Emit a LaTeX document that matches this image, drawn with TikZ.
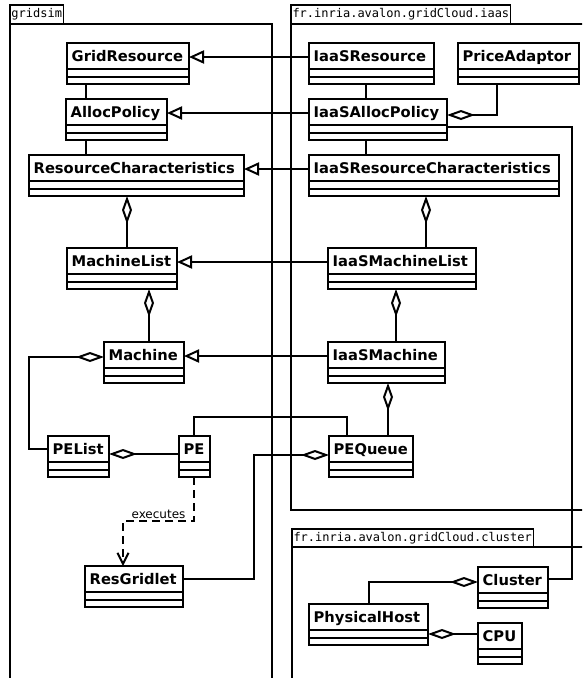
\documentclass[tikz,border=0pt]{standalone}
\usepackage{fontspec}
\newfontfamily\clsfont{DejaVu Sans}
\newfontfamily\pkgfont{DejaVu Sans Mono}
\usetikzlibrary{arrows.meta}
\newcommand{\umlclass}[5]{%
  \node[clsbox, minimum width=#4pt, minimum height=41pt] (#1) at (#2,#3) {};
  \node[clstext] (#1-t) at ([xshift=4.5pt,yshift=-18.7pt]#1.north west) {#5};
  \draw[clsline] ([yshift=-26pt]#1.north west) -- ([yshift=-26pt]#1.north east);
  \draw[clsline] ([yshift=-33.5pt]#1.north west) -- ([yshift=-33.5pt]#1.north east);
}
\begin{document}
\begin{tikzpicture}[x=1pt,y=-1pt,
 clsbox/.style={draw, line width=2.1pt, fill=white, anchor=north west, inner sep=0pt, outer sep=0pt},
 clsline/.style={line width=2pt},
 clstext/.style={anchor=base west, inner sep=0pt, font=\clsfont\fontsize{14.7}{17}\selectfont\bfseries},
 conn/.style={line width=2pt},
 gen/.style={conn, -{Triangle[open, length=15pt, width=13pt]}},
 agg/.style={conn, {Diamond[open, length=28pt, width=10pt]}-},
 dep/.style={conn, dash pattern=on 8pt off 5pt, -{Straight Barb[length=11pt, width=11pt]}},
 lbl/.style={font=\clsfont\fontsize{12}{14}\selectfont, inner sep=1.5pt},
 pkgtab/.style={draw, line width=1.5pt, anchor=south west, inner xsep=1.5pt, inner ysep=0pt, minimum height=19pt, font=\pkgfont\fontsize{12}{14}\selectfont, fill=white, outer sep=0pt},
 pkgbody/.style={draw, line width=2pt, anchor=north west, inner sep=0pt, outer sep=0pt},
]
\useasboundingbox (0,0) rectangle (582,678);
\fill[white] (0,0) rectangle (582,678);
\clip (0,0) rectangle (582,678);

% packages
\node[pkgbody, minimum width=262pt, minimum height=690pt] (gsb) at (10,24) {};
\node[pkgtab] (gst) at (gsb.north west) {gridsim};
\node[pkgbody, minimum width=320pt, minimum height=486pt] (iab) at (291,24) {};
\node[pkgtab] (iat) at (iab.north west) {fr.inria.avalon.gridCloud.iaas};
\node[pkgbody, minimum width=320pt, minimum height=200pt] (clb) at (292,547) {};
\node[pkgtab, minimum height=18pt] (clt) at (clb.north west) {fr.inria.avalon.gridCloud.cluster};

% classes
\umlclass{gr}{67}{43}{122}{GridResource}
\umlclass{ap}{66}{99}{101}{AllocPolicy}
\umlclass{rc}{29}{155}{215}{ResourceCharacteristics}
\umlclass{ml}{67}{248}{110}{MachineList}
\umlclass{m}{104}{342}{80}{Machine}
\umlclass{pel}{48}{436}{61}{PEList}
\umlclass{pe}{179}{436}{31}{PE}
\umlclass{peq}{329}{436}{84}{PEQueue}
\umlclass{rg}{85}{566}{98}{ResGridlet}
\umlclass{iasres}{309}{43}{125}{IaaSResource}
\umlclass{pa}{458}{43}{121}{PriceAdaptor}
\umlclass{iasap}{309}{99}{138}{IaaSAllocPolicy}
\umlclass{iasrc}{309}{155}{250}{IaaSResourceCharacteristics}
\umlclass{iasml}{328}{248}{148}{IaaSMachineList}
\umlclass{iasm}{328}{342}{117}{IaaSMachine}
\umlclass{cl}{478}{567}{70}{Cluster}
\umlclass{ph}{309}{604}{119}{PhysicalHost}
\umlclass{cpu}{478}{623}{44}{CPU}

% generalizations
\draw[gen] ([yshift=-14pt]iasres.north west) -- ([yshift=-14pt]iasres.north west -| gr.east);
\draw[gen] ([yshift=-14pt]iasap.north west) -- ([yshift=-14pt]iasap.north west -| ap.east);
\draw[gen] ([yshift=-14pt]iasrc.north west) -- ([yshift=-14pt]iasrc.north west -| rc.east);
\draw[gen] ([yshift=-14pt]iasml.north west) -- ([yshift=-14pt]iasml.north west -| ml.east);
\draw[gen] ([yshift=-14pt]iasm.north west) -- ([yshift=-14pt]iasm.north west -| m.east);

% plain associations
\draw[conn] ([xshift=19pt]gr.south west) -- ([xshift=19pt]gr.south west |- ap.north);
\draw[conn] ([xshift=20pt]ap.south west) -- ([xshift=20pt]ap.south west |- rc.north);
\draw[conn] ([xshift=57pt]iasres.south west) -- ([xshift=57pt]iasres.south west |- iasap.north);
\draw[conn] ([xshift=57pt]iasap.south west) -- ([xshift=57pt]iasap.south west |- iasrc.north);
\draw[conn] ([yshift=-28pt]iasap.north east) -- ++(125,0) |- ([yshift=-12pt]cl.north east);
\draw[conn] ([xshift=15pt]pe.north west) -- ++(0,-19) -| ([xshift=18pt]peq.north west);

% aggregations
\draw[agg] ([yshift=-16pt]iasap.north east) -| ([xshift=39pt]pa.south west);
\draw[agg] ([xshift=98pt]rc.south west) -- ([xshift=98pt]rc.south west |- ml.north);
\draw[agg] ([xshift=82pt]ml.south west) -- ([xshift=82pt]ml.south west |- m.north);
\draw[agg] ([xshift=117pt]iasrc.south west) -- ([xshift=117pt]iasrc.south west |- iasml.north);
\draw[agg] ([xshift=68pt]iasml.south west) -- ([xshift=68pt]iasml.south west |- iasm.north);
\draw[agg] ([xshift=60pt]iasm.south west) -- ([xshift=60pt]iasm.south west |- peq.north);
\draw[agg] ([yshift=-15pt]m.north west) -- ++(-75,0) |- ([yshift=-13pt]pel.north west);
\draw[agg] ([yshift=-18pt]pel.north east) -- ([yshift=-18pt]pel.north east -| pe.west);
\draw[agg] ([yshift=-19pt]peq.north west) -- ++(-75,0) |- ([yshift=-13pt]rg.north east);
\draw[agg] ([yshift=-15pt]cl.north west) -| ([xshift=60pt]ph.north west);
\draw[agg] ([yshift=-30pt]ph.north east) -- ([yshift=-30pt]ph.north east -| cpu.west);

% dependency
\draw[dep] ([xshift=15pt]pe.south west) -- ++(0,44) -| node[lbl, pos=0.25, above] (exl) {executes} ([xshift=38pt]rg.north west);
\end{tikzpicture}
\end{document}
